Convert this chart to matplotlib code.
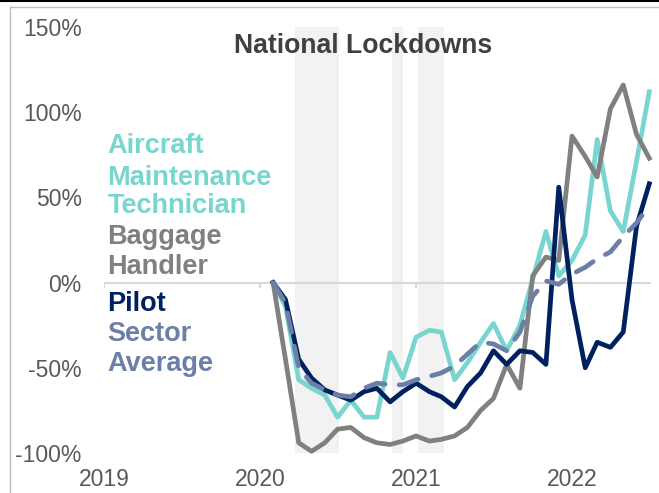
import matplotlib
matplotlib.use("Agg")
import matplotlib.pyplot as plt
from matplotlib.lines import Line2D
import pandas as pd


# monthly change vs. pre-pandemic baseline (%), Feb 2020 - Jul 2022
months = pd.date_range("2020-02-01", periods = 30, freq = "MS")

aircraft_technician = [0, -14, -57, -62, -66, -79, -69, -79, -79, -41, -56, -32, -28, -29, -57,
                       -47, -35, -24, -40, -25, 2, 30, 4, 13, 28, 84, 42, 30, 71, 112]
baggage_handler = [0, -45, -94, -99, -94, -86, -85, -91, -94, -95, -93, -90, -93, -92, -90,
                   -85, -75, -68, -48, -62, 4, 15, 13, 86, 74, 62, 102, 116, 87, 73]
pilot = [0, -10, -45, -56, -63, -66, -69, -64, -62, -70, -64, -59, -64, -67, -73,
         -61, -53, -40, -48, -40, -41, -48, 56, -10, -50, -35, -38, -29, 33, 58]
sector_average = [0, -12, -50, -59, -63, -66, -67, -62, -59, -60, -60, -57, -55, -53, -49,
                  -42, -35, -36, -40, -29, -8, 1, -1, 5, 9, 14, 18, 27, 35, 45]

lockdowns = [
    ("2020-03-23", "2020-07-04"),
    ("2020-11-05", "2020-12-02"),
    ("2021-01-06", "2021-03-08"),
]

year_ticks = pd.to_datetime(["2019-01-01", "2020-01-01", "2021-01-01", "2022-01-01"])
year_labels = ["2019", "2020", "2021", "2022"]
pct_ticks = [-100, -50, 0, 50, 100, 150]

TEAL = "#78D5CF"
GREY = "#808080"
NAVY = "#002060"
SLATE = "#6B7FA8"
TICK_GREY = "#595959"

plt.rcParams["font.family"] = ["Liberation Sans", "DejaVu Sans"]

fig = plt.figure(figsize = (6.59, 4.93), dpi = 100)
ax = fig.add_axes([104 / 659, 1 - 453 / 493, 547 / 659, 426 / 493])

for start, end in lockdowns:
    ax.axvspan(pd.Timestamp(start), pd.Timestamp(end), color = "#F2F2F2", lw = 0, zorder = 0)

# zero axis with small year ticks
ax.axhline(0, color = "#D9D9D9", lw = 1.5, zorder = 1)
ax.vlines(year_ticks[:3], -3, 0, color = "#D9D9D9", lw = 1.5, zorder = 1)

ax.plot(months, aircraft_technician, color = TEAL, lw = 3.4, zorder = 2, clip_on = False)
ax.plot(months, baggage_handler, color = GREY, lw = 3.4, zorder = 3, clip_on = False)
ax.plot(months, pilot, color = NAVY, lw = 3.4, zorder = 4, clip_on = False)
ax.plot(months, sector_average, color = SLATE, lw = 3.4, zorder = 5, clip_on = False,
        dashes = (4.2, 3), dash_capstyle = "round")

ax.set_xlim(pd.Timestamp("2019-01-01"), pd.Timestamp("2022-07-05"))
ax.set_ylim(-100, 150)
ax.set_xticks(year_ticks)
ax.set_xticklabels(year_labels)
ax.set_yticks(pct_ticks)
ax.set_yticklabels([f"{v}%" for v in pct_ticks])
ax.tick_params(axis = "both", length = 0, labelsize = 16.5, colors = TICK_GREY)
ax.tick_params(axis = "y", pad = 16)
ax.tick_params(axis = "x", pad = 11)
for s in ax.spines.values():
    s.set_visible(False)

ax.text(0.473, 0.939, "National Lockdowns", transform = ax.transAxes, ha = "center",
        va = "baseline", fontsize = 19.2, fontweight = "bold", color = "#404040")

# series names used as an inline legend
legend_lines = [
    ("Aircraft", TEAL, 0.704),
    ("Maintenance", TEAL, 0.629),
    ("Technician", TEAL, 0.563),
    ("Baggage", GREY, 0.491),
    ("Handler", GREY, 0.420),
    ("Pilot", NAVY, 0.333),
    ("Sector", SLATE, 0.263),
    ("Average", SLATE, 0.192),
]
for txt, c, y in legend_lines:
    ax.text(0.006, y, txt, transform = ax.transAxes, ha = "left", va = "baseline",
            fontsize = 19.5, fontweight = "bold", color = c)

# outer frame
fig.add_artist(Line2D([10 / 659, 10 / 659], [0, 1 - 7 / 493], color = "#BFBFBF", lw = 1))
fig.add_artist(Line2D([10 / 659, 1], [1 - 7 / 493, 1 - 7 / 493], color = "#BFBFBF", lw = 1))
fig.add_artist(Line2D([0, 1], [1 - 0.8 / 493, 1 - 0.8 / 493], color = "black", lw = 1.5))

fig.savefig("out.png", dpi = 100)
